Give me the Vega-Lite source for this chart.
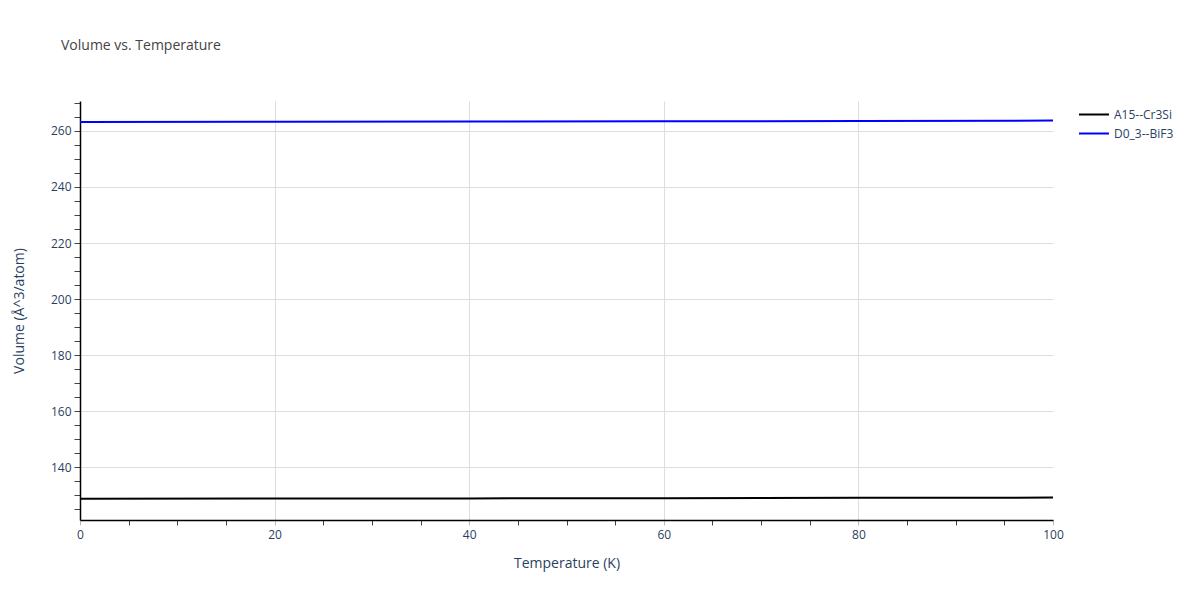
{
  "$schema": "https://vega.github.io/schema/vega-lite/v6.json",
  "width": 973,
  "height": 419,
  "autosize": "none",
  "padding": {"left": 80, "top": 101, "right": 147, "bottom": 80},
  "background": "white",
  "config": {
    "font": "Open Sans",
    "view": {"stroke": null}
  },
  "title": {
    "text": "Volume vs. Temperature",
    "anchor": "start",
    "frame": "group",
    "dx": -19,
    "offset": 48,
    "fontSize": 14,
    "fontWeight": "normal",
    "color": "#444"
  },
  "data": {
    "values": [
      {"T": 0, "V": 128.7, "s": "A15--Cr3Si"},
      {"T": 20, "V": 128.75, "s": "A15--Cr3Si"},
      {"T": 40, "V": 128.82, "s": "A15--Cr3Si"},
      {"T": 60, "V": 128.9, "s": "A15--Cr3Si"},
      {"T": 80, "V": 129.0, "s": "A15--Cr3Si"},
      {"T": 100, "V": 129.1, "s": "A15--Cr3Si"},
      {"T": 0, "V": 263.2, "s": "D0_3--BiF3"},
      {"T": 20, "V": 263.28, "s": "D0_3--BiF3"},
      {"T": 40, "V": 263.36, "s": "D0_3--BiF3"},
      {"T": 60, "V": 263.45, "s": "D0_3--BiF3"},
      {"T": 80, "V": 263.55, "s": "D0_3--BiF3"},
      {"T": 100, "V": 263.7, "s": "D0_3--BiF3"}
    ]
  },
  "mark": {"type": "line", "strokeWidth": 2, "clip": true},
  "encoding": {
    "x": {
      "field": "T",
      "type": "quantitative",
      "scale": {"domain": [0, 100], "nice": false, "zero": false},
      "axis": {
        "title": "Temperature (K)",
        "titleFontSize": 14,
        "titleFontWeight": "normal",
        "titleColor": "#2a3f5f",
        "titlePadding": 16,
        "values": [0, 5, 10, 15, 20, 25, 30, 35, 40, 45, 50, 55, 60, 65, 70, 75, 80, 85, 90, 95, 100],
        "labelExpr": "datum.value % 20 == 0 ? datum.label : ''",
        "labelFontSize": 12,
        "labelColor": "#2a3f5f",
        "labelPadding": 4,
        "labelFlush": false,
        "domainColor": "#000",
        "domainWidth": 1.5,
        "tickSize": 5,
        "tickColor": {"condition": {"test": "datum.value % 20 == 0", "value": "#bbb"}, "value": "#444"},
        "gridColor": "#ddd",
        "gridOpacity": {"condition": {"test": "datum.value % 20 == 0 && datum.value > 0 && datum.value < 100", "value": 1}, "value": 0}
      }
    },
    "y": {
      "field": "V",
      "type": "quantitative",
      "scale": {"domain": [121.1, 270.7], "nice": false, "zero": false},
      "axis": {
        "title": "Volume (Å^3/atom)",
        "titleFontSize": 14,
        "titleFontWeight": "normal",
        "titleColor": "#2a3f5f",
        "titlePadding": 24,
        "values": [125, 130, 135, 140, 145, 150, 155, 160, 165, 170, 175, 180, 185, 190, 195, 200, 205, 210, 215, 220, 225, 230, 235, 240, 245, 250, 255, 260, 265, 270],
        "labelExpr": "datum.value % 20 == 0 ? datum.label : ''",
        "labelFontSize": 12,
        "labelColor": "#2a3f5f",
        "labelPadding": 3,
        "domainColor": "#000",
        "domainWidth": 1.5,
        "tickSize": 6,
        "tickColor": "#444",
        "gridColor": "#ddd",
        "gridOpacity": {"condition": {"test": "datum.value % 20 == 0", "value": 1}, "value": 0}
      }
    },
    "color": {
      "field": "s",
      "type": "nominal",
      "scale": {"domain": ["A15--Cr3Si", "D0_3--BiF3"], "range": ["#000000", "#0000ff"]},
      "legend": {
        "title": null,
        "orient": "none",
        "legendX": 998,
        "legendY": 4,
        "symbolType": "stroke",
        "symbolStrokeWidth": 2,
        "symbolSize": 900,
        "clipHeight": 19,
        "labelFontSize": 12,
        "labelColor": "#2a3f5f",
        "rowPadding": 0
      }
    }
  }
}
